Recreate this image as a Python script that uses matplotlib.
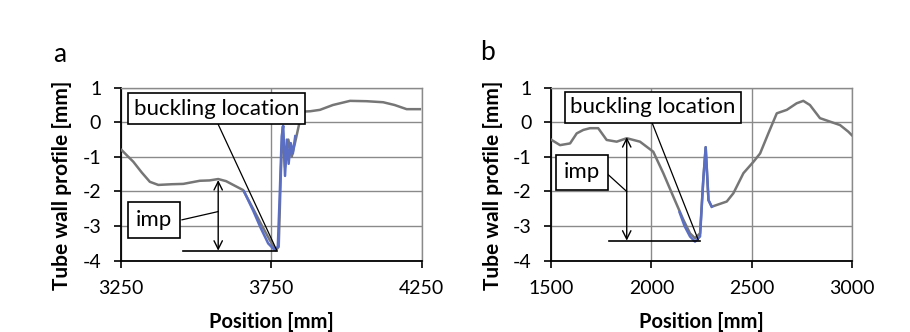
import matplotlib
matplotlib.use("Agg")
import matplotlib.pyplot as plt

# ---------------- data ----------------
a_x = [3253, 3270, 3292, 3320, 3347, 3375, 3420, 3458, 3513, 3545, 3574, 3600, 3624, 3657,
       3690, 3720, 3745, 3765, 3775, 3782, 3788, 3796, 3807, 3818, 3829, 3846, 3857, 3880,
       3912, 3955, 4012, 4067, 4122, 4160, 4200, 4244]
a_y = [-0.80, -0.95, -1.14, -1.45, -1.72, -1.81, -1.79, -1.78, -1.69, -1.68, -1.64, -1.70, -1.81, -1.96,
       -2.50, -3.00, -3.40, -3.70, -3.60, -1.50, -0.13, -1.30, -0.50, -1.00, -0.60, 0.07, 0.31, 0.32,
       0.36, 0.50, 0.62, 0.61, 0.58, 0.50, 0.38, 0.38]
a_blue_x = [3660, 3690, 3715, 3740, 3760, 3772, 3778, 3785, 3790, 3796, 3802, 3808, 3815, 3822, 3830]
a_blue_y = [-2.00, -2.55, -3.05, -3.50, -3.68, -3.60, -2.20, -0.40, -0.10, -1.55, -0.50, -1.20, -0.60, -0.90, -0.40]

b_x = [1503, 1545, 1595, 1628, 1661, 1694, 1735, 1777, 1827, 1877, 1943, 2009, 2059, 2109, 2159,
       2192, 2217, 2242, 2258, 2270, 2284, 2300, 2375, 2408, 2458, 2508, 2541, 2582, 2624, 2674,
       2723, 2756, 2789, 2839, 2889, 2939, 2980, 2997]
b_y = [-0.51, -0.66, -0.61, -0.32, -0.22, -0.17, -0.17, -0.51, -0.56, -0.46, -0.56, -0.85, -1.47, -2.15, -2.82,
       -3.21, -3.35, -3.21, -1.67, -0.72, -2.25, -2.44, -2.29, -2.05, -1.47, -1.14, -0.90, -0.32, 0.26, 0.36,
       0.55, 0.62, 0.50, 0.12, 0.02, -0.08, -0.27, -0.37]
b_blue_x = [2140, 2165, 2192, 2217, 2242, 2258, 2270, 2284, 2300]
b_blue_y = [-2.60, -3.00, -3.30, -3.45, -3.30, -1.67, -0.72, -2.25, -2.44]

a_xticks = [3250, 3750, 4250]
b_xticks = [1500, 2000, 2500, 3000]
yticks = [-4, -3, -2, -1, 0, 1]

FONT = "Lato"
plt.rcParams['font.family'] = [FONT, 'DejaVu Sans']

W, H = 910, 332
fig = plt.figure(figsize=(W / 100, H / 100), dpi=100)
ax_a = fig.add_axes([0.1326, 0.2148, 0.3308, 0.521])
ax_b = fig.add_axes([0.6055, 0.2148, 0.3311, 0.521])

GRAY = "#767676"
BLUE = "#5a6ec4"
GRID = "#8a8a8a"

def style(ax, xlim, xticks):
    ax.set_xlim(*xlim)
    ax.set_ylim(-4, 1)
    ax.set_xticks(xticks)
    ax.set_yticks(yticks)
    ax.set_yticklabels([str(v) for v in yticks])
    ax.grid(True, color=GRID, linewidth=1.0)
    ax.set_axisbelow(True)
    for s in ("top", "right"):
        ax.spines[s].set_color(GRID)
        ax.spines[s].set_linewidth(1.0)
    for s in ("left", "bottom"):
        ax.spines[s].set_color("black")
        ax.spines[s].set_linewidth(1.3)
    ax.tick_params(direction="out", length=5, width=1.2, labelsize=14)
    ax.tick_params(axis="x", pad=9)
    ax.tick_params(axis="y", pad=9)

style(ax_a, (3250, 4250), a_xticks)
style(ax_b, (1500, 3000), b_xticks)

ax_a.plot(a_x, a_y, color=GRAY, linewidth=1.8, zorder=3)
ax_a.plot(a_blue_x, a_blue_y, color=BLUE, linewidth=1.8, zorder=4)
ax_b.plot(b_x, b_y, color=GRAY, linewidth=1.8, zorder=3)
ax_b.plot(b_blue_x, b_blue_y, color=BLUE, linewidth=1.8, zorder=4)

thin = dict(arrowstyle="-", color="black", lw=0.9, shrinkA=0, shrinkB=0)
dbl = dict(arrowstyle="<->,head_length=0.6,head_width=0.3", color="black", lw=1.0,
           shrinkA=0, shrinkB=0)
bbox_bl = dict(boxstyle="square,pad=0.25", fc="white", ec="black", lw=1.2)
bbox_imp = dict(boxstyle="square,pad=0.35", fc="white", ec="black", lw=1.2)

# panel a annotations
ax_a.annotate("", xy=(3768, -3.69), xytext=(3574, -0.06), arrowprops=thin, zorder=5)
ax_a.text(3569, 0.39, "buckling location", ha="center", va="center", fontsize=16,
          bbox=bbox_bl, zorder=6)
ax_a.annotate("", xy=(3574, -1.67), xytext=(3574, -3.71), arrowprops=dbl, zorder=5)
ax_a.plot([3456, 3768], [-3.71, -3.71], color="black", lw=1.2, zorder=5)
ax_a.annotate("", xy=(3574, -2.58), xytext=(3453, -2.82), arrowprops=thin, zorder=5)
ax_a.text(3361, -2.83, "imp", ha="center", va="center", fontsize=16, bbox=bbox_imp, zorder=6)

# panel b annotations
ax_b.annotate("", xy=(2233, -3.40), xytext=(2001, 0.02), arrowprops=thin, zorder=5)
ax_b.text(2008, 0.43, "buckling location", ha="center", va="center", fontsize=16,
          bbox=bbox_bl, zorder=6)
ax_b.annotate("", xy=(1877, -0.43), xytext=(1877, -3.42), arrowprops=dbl, zorder=5)
ax_b.plot([1790, 2242], [-3.42, -3.42], color="black", lw=1.2, zorder=5)
ax_b.annotate("", xy=(1877, -2.0), xytext=(1769, -1.43), arrowprops=thin, zorder=5)
ax_b.text(1653, -1.45, "imp", ha="center", va="center", fontsize=16, bbox=bbox_imp, zorder=6)

# axis titles
for xc, yl_x in ((271, 62), (701, 493)):
    fig.text(xc / W, 1 - 322 / H, "Position [mm]", fontsize=14.5, fontweight="bold",
             ha="center", va="center")
    fig.text(yl_x / W, 1 - 185 / H, "Tube wall profile [mm]", fontsize=15, fontweight="bold",
             ha="center", va="center", rotation=90)

fig.text(60 / W, 1 - 55 / H, "a", fontsize=19, ha="center", va="center")
fig.text(488 / W, 1 - 53 / H, "b", fontsize=19, ha="center", va="center")

fig.savefig("out.png", dpi=100, facecolor="white")
